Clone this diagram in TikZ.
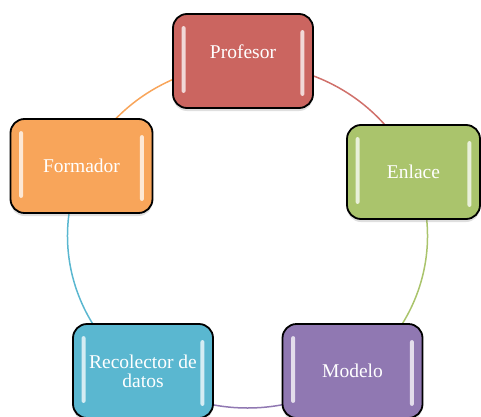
\documentclass[tikz,border=0pt]{standalone}
\usepackage{fontspec}
\setmainfont{Liberation Serif}
\usetikzlibrary{shadows}
\definecolor{cprof}{RGB}{203,101,96}
\definecolor{cenl}{RGB}{170,196,108}
\definecolor{cform}{RGB}{248,165,90}
\definecolor{crec}{RGB}{90,183,208}
\definecolor{cmod}{RGB}{144,120,178}
\definecolor{lprof}{RGB}{208,112,106}
\newcommand{\glossbars}[1]{%
  \fill[barstyle] ([xshift=9.5pt,yshift=-13pt]#1.north west) rectangle ([xshift=13.5pt,yshift=16pt]#1.south west);
  \fill[barstyle] ([xshift=-13.5pt,yshift=-17pt]#1.north east) rectangle ([xshift=-9.5pt,yshift=13pt]#1.south east);
}
\begin{document}
\begin{tikzpicture}[x=1pt,y=1pt,
  boxstyle/.style={draw=black, line width=1.8pt, rounded corners=14pt,
    minimum width=140pt, minimum height=94pt, inner sep=0pt, text=white,
    font=\fontsize{19.5}{19}\selectfont, align=center,
    drop shadow={opacity=0.25, shadow xshift=0pt, shadow yshift=-3pt}},
  barstyle/.style={white, opacity=0.75, rounded corners=2pt},
  linkstyle/.style={line width=1.5pt}
]
\useasboundingbox (0,0) rectangle (481,416);
\clip (0,0) rectangle (481,416);
\coordinate (ctr) at (247.5,180);
% connectors
\draw[linkstyle, lprof] (ctr) ++(90:180 and 172) arc[start angle=90, end angle=20, x radius=180, y radius=172];
\draw[linkstyle, cenl] (ctr) ++(20:180 and 172) arc[start angle=20, end angle=-54, x radius=180, y radius=172];
\draw[linkstyle, cmod] (ctr) ++(-54:180 and 172) arc[start angle=-54, end angle=-126, x radius=180, y radius=172];
\draw[linkstyle, crec] (ctr) ++(-126:180 and 172) arc[start angle=-126, end angle=-200, x radius=180, y radius=172];
\draw[linkstyle, cform] (ctr) ++(160:180 and 172) arc[start angle=160, end angle=90, x radius=180, y radius=172];
% boxes
\node[boxstyle, fill=cprof] (prof) at (243,355) {\raisebox{18pt}{Profesor}};
\node[boxstyle, fill=cenl, minimum width=133pt] (enl) at (413.5,244) {\raisebox{-6pt}{Enlace}};
\node[boxstyle, fill=cform, minimum width=142pt] (form) at (81.5,250) {Formador};
\node[boxstyle, fill=crec] (rec) at (143,45) {Recolector de\\datos};
\node[boxstyle, fill=cmod] (mod) at (352.5,45) {Modelo};
\glossbars{prof}
\glossbars{enl}
\glossbars{form}
\glossbars{rec}
\glossbars{mod}
\end{tikzpicture}
\end{document}
